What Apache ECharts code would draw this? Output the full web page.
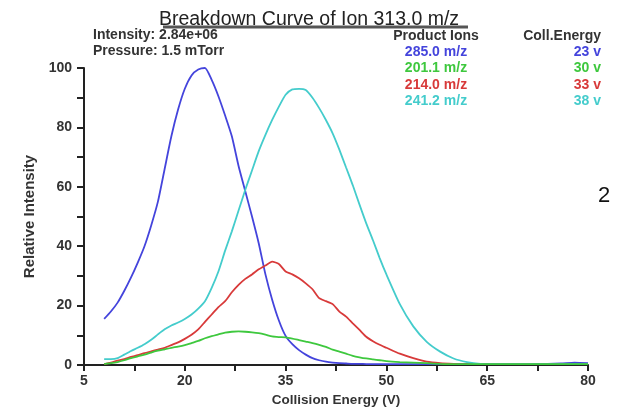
<!DOCTYPE html>
<html>
<head>
<meta charset="utf-8">
<script src="https://cdn.jsdelivr.net/npm/echarts@6/dist/echarts.min.js"></script>
<style>html,body{margin:0;padding:0;background:#fff}#c{width:618px;height:413px}</style>
</head>
<body>
<div id="c"></div>
<script>
// Collision energies (V)
const energies = [8,9,10,11,12,13,14,15,16,17,18,19,20,21,22,23,24,25,26,27,28,29,30,31,32,33,34,35,36,37,38,39,40,41,42,43,44,45,46,47,48,49,50,52,54,56,58,60,62,64,66,68,70,72,74,76,78,80];
// Relative intensities per product ion
const ion285 = [15.5,18,21,25,29.5,34.5,40,47,55,66,77,86,93,97.5,99.5,100,96,90.5,84,77,67,58.5,50,41,30.5,22,15,9.8,7,5,3.5,2.3,1.6,1.1,0.8,0.6,0.5,0.4,0.4,0.3,0.3,0.3,0.3,0.3,0.3,0.3,0.3,0.3,0.3,0.3,0.3,0.3,0.3,0.4,0.4,0.5,0.8,0.6];
const ion201 = [0.3,0.6,1,1.6,2.3,2.9,3.5,4.2,4.8,5.3,5.8,6.2,6.7,7.4,8.1,9,9.7,10.3,10.9,11.2,11.3,11.2,11,10.7,10.2,9.6,9.4,9.3,8.9,8.4,7.9,7.4,6.8,6.1,5.2,4.5,3.8,3.1,2.6,2.2,1.9,1.6,1.3,1,0.8,0.6,0.4,0.3,0.3,0.3,0.3,0.3,0.3,0.3,0.3,0.3,0.3,0.3];
const ion214 = [0.3,0.8,1.5,2,2.7,3.3,4,4.6,5.2,5.8,6.7,7.6,8.8,10.2,12,14.5,17,19.5,21.5,24.5,27,29,30.5,32.2,33.5,34.8,34,31.5,30.5,29.2,27.5,25.5,22.5,21.5,20.5,18,16.3,14,11.8,9.5,8,6.8,5.8,3.8,2.3,1.1,0.6,0.4,0.3,0.3,0.3,0.3,0.3,0.3,0.3,0.3,0.3,0.3];
const ion241 = [2,2,2.3,3.5,4.7,5.8,7,8.5,10.3,12,13.3,14.3,15.5,17,19,21.5,26,31.5,38.5,45,52,59,65.5,72,77.5,82.5,87,91,92.8,93,92.6,90,86.5,82.5,78,72.5,66.5,60.5,54,47.7,42,36,30.5,20.5,13,7.8,4.5,2.2,1,0.4,0.3,0.3,0.3,0.3,0.3,0.3,0.3,0.3];
const ionNames = ['285.0 m/z','201.1 m/z','214.0 m/z','241.2 m/z'];
const ionEnergies = ['23 v','30 v','33 v','38 v'];
const ionColors = ['#4444dc','#3ec83e','#d83a3a','#44cccc'];
const yLabelTicks = [0,20,40,60,80,100];

const series = [ion285, ion201, ion214, ion241].map((vals, i) => ({
  type: 'line',
  name: ionNames[i],
  data: energies.map((e, k) => [e, vals[k]]),
  showSymbol: false,
  smooth: 0.2,
  lineStyle: { color: ionColors[i], width: 1.8 },
  z: i === 1 ? 5 : 3
}));

const F = 'Liberation Sans, Arial, sans-serif';
const legendTexts = [];
legendTexts.push({ type:'text', x: 436, y: 36, style:{ text:'Product Ions', font:'bold 14px '+F, fill:'#333', textAlign:'center', textVerticalAlign:'middle' } });
legendTexts.push({ type:'text', x: 601, y: 36, style:{ text:'Coll.Energy', font:'bold 14px '+F, fill:'#333', textAlign:'right', textVerticalAlign:'middle' } });
ionNames.forEach((n, i) => {
  const y = 52 + i * 16.5;
  legendTexts.push({ type:'text', x: 436, y: y, style:{ text:n, font:'bold 14px '+F, fill: ionColors[i], textAlign:'center', textVerticalAlign:'middle' } });
  legendTexts.push({ type:'text', x: 601, y: y, style:{ text:ionEnergies[i], font:'bold 14px '+F, fill: ionColors[i], textAlign:'right', textVerticalAlign:'middle' } });
});

const chart = echarts.init(document.getElementById('c'), null, { renderer: 'canvas' });
chart.setOption({
  animation: false,
  backgroundColor: '#fff',
  title: {
    text: 'Breakdown Curve of Ion 313.0 m/z',
    left: 'center', top: 5,
    textStyle: { fontFamily: F, fontSize: 19.5, fontWeight: 'normal', color: '#222' }
  },
  grid: { left: 84, right: 30, top: 68, bottom: 48 },
  xAxis: {
    type: 'value', min: 5, max: 80, interval: 15,
    name: 'Collision Energy (V)', nameLocation: 'middle', nameGap: 25,
    nameTextStyle: { fontFamily: F, fontSize: 13.5, fontWeight: 'bold', color: '#333' },
    axisLine: { lineStyle: { color: '#222', width: 2 } },
    axisTick: { inside: false, length: 6, lineStyle: { color: '#222', width: 2 } },
    minorTick: { show: true, splitNumber: 2, length: 6, lineStyle: { color: '#222', width: 2 } },
    axisLabel: { fontFamily: F, fontSize: 14, fontWeight: 'bold', color: '#333', margin: 9 },
    splitLine: { show: false }
  },
  yAxis: {
    type: 'value', min: 0, max: 100, interval: 10,
    name: 'Relative Intensity', nameLocation: 'middle', nameGap: 46,
    nameTextStyle: { fontFamily: F, fontSize: 15, fontWeight: 'bold', color: '#333' },
    axisLine: { show: true, lineStyle: { color: '#222', width: 2 } },
    axisTick: { show: true, length: 7, lineStyle: { color: '#222', width: 2 } },
    axisLabel: {
      fontFamily: F, fontSize: 14, fontWeight: 'bold', color: '#333', margin: 12,
      formatter: v => yLabelTicks.indexOf(v) >= 0 ? String(v) : ''
    },
    splitLine: { show: false }
  },
  graphic: [
    { type:'line', shape:{ x1:163, y1:27, x2:468, y2:27 }, style:{ stroke:'#555', lineWidth:3 } },
    { type:'text', x: 93, y: 35, style:{ text:'Intensity: 2.84e+06', font:'bold 14px '+F, fill:'#333', textVerticalAlign:'middle' } },
    { type:'text', x: 93, y: 51, style:{ text:'Pressure: 1.5 mTorr', font:'bold 14px '+F, fill:'#333', textVerticalAlign:'middle' } },
    { type:'text', x: 604, y: 196, style:{ text:'2', font:'22px '+F, fill:'#111', textAlign:'center', textVerticalAlign:'middle' } }
  ].concat(legendTexts),
  series: series
});
</script>
</body>
</html>
